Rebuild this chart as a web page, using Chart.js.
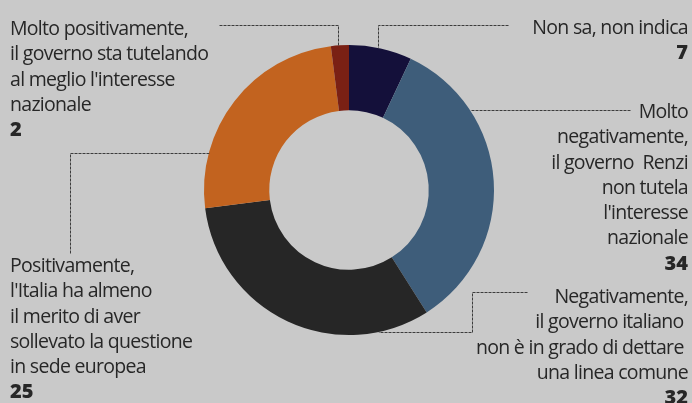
<!DOCTYPE html>
<html>
<head>
<meta charset="utf-8">
<script src="https://cdn.jsdelivr.net/npm/chart.js@4.4.1/dist/chart.umd.min.js"></script>
<style>
  html, body { margin: 0; padding: 0; background: #c9c9c9; }
  #wrap { position: relative; width: 692px; height: 403px; overflow: hidden; background: #c9c9c9; }
  canvas { position: absolute; left: 0; top: 0; }
  .lbl { position: absolute; font-family: "Open Sans", sans-serif; font-size: 19.5px; line-height: 25.3px; color: #272727; letter-spacing: -0.7px; white-space: pre; }
  .lbl b { font-weight: 800; font-size: 20px; letter-spacing: 0; }
  .r { text-align: right; }
</style>
</head>
<body>
<div id="wrap">
  <canvas id="c" width="692" height="403"></canvas>
</div>
<script>
// ---- data ----
const categories = [
  "Non sa, non indica",
  "Molto negativamente, il governo Renzi non tutela l'interesse nazionale",
  "Negativamente, il governo italiano non è in grado di dettare una linea comune",
  "Positivamente, l'Italia ha almeno il merito di aver sollevato la questione in sede europea",
  "Molto positivamente, il governo sta tutelando al meglio l'interesse nazionale"
];
const values = [7, 34, 32, 25, 2];
const labelLines = [
  ["Non sa, non indica"],
  ["Molto", "negativamente,", "il governo  Renzi", "non tutela", "l'interesse", "nazionale"],
  ["Negativamente,", "il governo italiano ", "non è in grado di dettare ", "una linea comune"],
  ["Positivamente,", "l'Italia ha almeno", "il merito di aver", "sollevato la questione", "in sede europea"],
  ["Molto positivamente,", "il governo sta tutelando", "al meglio l'interesse", "nazionale"]
];
const colors = ["#14103a", "#3e5d7a", "#262626", "#c2631f", "#7a2014"];

// ---- label layout (position of text blocks, and leader routes) ----
const labelBoxes = [
  { right: 4, top: 14 },
  { right: 4, top: 98 },
  { right: 4, top: 283 },
  { left: 10, top: 252 },
  { left: 10, top: 15 }
];
// leader: points from the label side; last segment reaches the ring (vertical 'v' or horizontal 'h')
const leaders = [
  { pts: [[508, 25], [378, 25]], end: 'v' },
  { pts: [[630, 110]], end: 'h', side: 1 },
  { pts: [[527, 292], [472, 292], [472, 332]], end: 'h', side: 1 },
  { pts: [[70, 253], [70, 153]], end: 'h', side: -1 },
  { pts: [[219, 25], [338, 25]], end: 'v' }
];

const wrap = document.getElementById('wrap');
labelLines.forEach((lines, i) => {
  const d = document.createElement('div');
  d.className = 'lbl' + (labelBoxes[i].right !== undefined ? ' r' : '');
  if (labelBoxes[i].right !== undefined) d.style.right = labelBoxes[i].right + 'px';
  else d.style.left = labelBoxes[i].left + 'px';
  d.style.top = labelBoxes[i].top + 'px';
  d.innerHTML = lines.map(s => s.replace(/&/g,'&amp;').replace(/</g,'&lt;')).join('<br>') + '<br><b>' + values[i] + '</b>';
  wrap.appendChild(d);
});

const leaderPlugin = {
  id: 'leaders',
  afterDatasetsDraw(chart) {
    const ctx = chart.ctx;
    const arc = chart.getDatasetMeta(0).data[0];
    const cx = arc.x, cy = arc.y, R = arc.outerRadius;
    ctx.save();
    ctx.strokeStyle = '#3c3c3c';
    ctx.lineWidth = 1;
    ctx.setLineDash([3, 1]);
    leaders.forEach(l => {
      const pts = l.pts.slice();
      const last = pts[pts.length - 1];
      let endPt;
      if (l.end === 'v') {
        const dx = last[0] - cx;
        endPt = [last[0], cy - Math.sqrt(Math.max(0, R * R - dx * dx))];
      } else {
        const dy = last[1] - cy;
        endPt = [cx + l.side * Math.sqrt(Math.max(0, R * R - dy * dy)), last[1]];
      }
      ctx.beginPath();
      ctx.moveTo(pts[0][0] + 0.5, pts[0][1] + 0.5);
      for (let k = 1; k < pts.length; k++) ctx.lineTo(pts[k][0] + 0.5, pts[k][1] + 0.5);
      ctx.lineTo(endPt[0] + 0.5, endPt[1] + 0.5);
      ctx.stroke();
    });
    ctx.restore();
  }
};

new Chart(document.getElementById('c'), {
  type: 'doughnut',
  data: {
    labels: categories,
    datasets: [{
      data: values,
      backgroundColor: colors,
      borderWidth: 0
    }]
  },
  options: {
    responsive: false,
    animation: false,
    cutout: '55%',
    rotation: 0,
    layout: { padding: { left: 204, right: 198, top: 45, bottom: 68 } },
    plugins: { legend: { display: false }, tooltip: { enabled: false } }
  },
  plugins: [leaderPlugin]
});
</script>
</body>
</html>
